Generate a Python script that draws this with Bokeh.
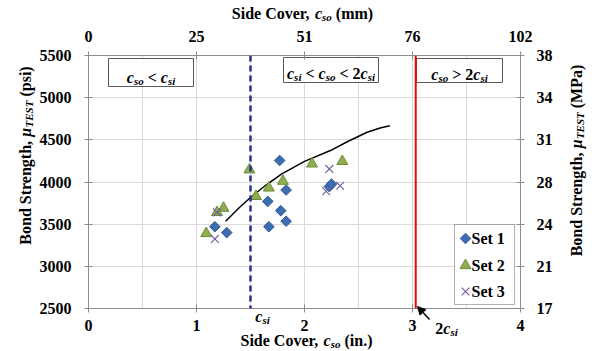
import math
from bokeh.plotting import figure
from bokeh.models import (Range1d, LinearAxis, FixedTicker, Span, Label, BoxAnnotation,
                          Arrow, NormalHead)
from bokeh.embed import file_html
from bokeh.resources import INLINE

# ---------------- data ----------------
set1_x = [1.17, 1.28, 1.77, 1.66, 1.83, 1.78, 1.67, 1.83, 2.23, 2.25]
set1_y = [3470, 3400, 4255, 3770, 3905, 3660, 3470, 3535, 3945, 3975]
set2_x = [1.09, 1.19, 1.25, 1.49, 1.55, 1.67, 1.80, 2.07, 2.35]
set2_y = [3390, 3640, 3690, 4145, 3830, 3930, 4010, 4215, 4245]
set3_x = [1.19, 1.17, 2.23, 2.20, 2.33]
set3_y = [3640, 3325, 4155, 3890, 3955]
trend_x = [1.27, 1.40, 1.51, 1.65, 1.79, 2.00, 2.24, 2.40, 2.58, 2.70, 2.79]
trend_y = [3535, 3700, 3828, 3970, 4097, 4245, 4373, 4480, 4590, 4640, 4666]
c_si = 1.5
two_c_si = 3.03
in_ticks = [0, 1, 2, 3, 4]
mm_labels = ["0", "25", "51", "76", "102"]
psi_ticks = [2500, 3000, 3500, 4000, 4500, 5000, 5500]
mpa_labels = ["17", "21", "24", "28", "31", "34", "38"]
series_names = ["Set 1", "Set 2", "Set 3"]

FONT = "Liberation Serif"
W, H = 600, 351
FL, FR, FT, FB = 88, 520, 55, 308   # frame edges in pixels
X0, X1, Y0, Y1 = 0, 4, 2500, 5500

p = figure(width=W, height=H, output_backend="svg", toolbar_location=None,
           x_range=Range1d(X0, X1), y_range=Range1d(Y0, Y1), title=None,
           min_border_left=FL, min_border_right=W - FR,
           min_border_top=FT, min_border_bottom=H - FB)
p.outline_line_color = None
p.background_fill_color = "white"
p.border_fill_color = "white"
p.styles = {"position": "absolute", "left": "0px", "top": "0px"}

AX_COL = "#8C8C8C"
def style_axis(ax, standoff):
    ax.axis_line_color = AX_COL
    ax.major_tick_line_color = AX_COL
    ax.major_tick_in = 4
    ax.major_tick_out = 4
    ax.minor_tick_line_color = None
    ax.major_label_text_font = FONT
    ax.major_label_text_font_style = "bold"
    ax.major_label_text_font_size = "16px"
    ax.major_label_text_color = "black"
    ax.major_label_standoff = standoff
    ax.axis_label = None

p.xaxis.ticker = FixedTicker(ticks=in_ticks)
p.yaxis.ticker = FixedTicker(ticks=psi_ticks)
style_axis(p.xaxis[0], 7)
style_axis(p.yaxis[0], 13)

top = LinearAxis(ticker=FixedTicker(ticks=in_ticks),
                 major_label_overrides={**{t: l for t, l in zip(in_ticks, mm_labels)},
                                        **{str(t): l for t, l in zip(in_ticks, mm_labels)}})
style_axis(top, 10)
p.add_layout(top, "above")
right = LinearAxis(ticker=FixedTicker(ticks=psi_ticks),
                   major_label_overrides={**{t: l for t, l in zip(psi_ticks, mpa_labels)},
                                          **{str(t): l for t, l in zip(psi_ticks, mpa_labels)}})
style_axis(right, 12)
p.add_layout(right, "right")

p.xgrid.ticker = FixedTicker(ticks=[0.5, 1, 1.5, 2, 2.5, 3, 3.5])
p.ygrid.ticker = FixedTicker(ticks=[3000, 3500, 4000, 4500, 5000])
p.xgrid.grid_line_color = "#D9D9D9"
p.ygrid.grid_line_color = "#D9D9D9"

def px2x(px):
    return X0 + (px - FL) * (X1 - X0) / (FR - FL)
def py2y(py):
    return Y1 - (py - FT) * (Y1 - Y0) / (FB - FT)

# region boxes (under the glyphs, over the grid)
for l, r, t, b in [(108, 193, 58, 86), (283, 378, 57, 82), (416, 502, 58, 82)]:
    p.add_layout(BoxAnnotation(left=px2x(l), right=px2x(r), top=py2y(t), bottom=py2y(b),
                               fill_color="white", fill_alpha=1.0, level="underlay",
                               line_color="#595959", line_width=1, line_alpha=1.0))

p.add_layout(Span(location=c_si, dimension="height", line_color="#23308F",
                  line_dash="6 4", line_width=2.5))
p.add_layout(Span(location=two_c_si, dimension="height", line_color="#FF0000",
                  line_width=2))

STY = [dict(marker="square", angle=math.pi / 4, size=7.5, fill_color="#3D6CB0", line_color="#2F5A96"),
       dict(marker="triangle", size=11, fill_color="#8FAF4F", line_color="#6E8B3D"),
       dict(marker="x", size=11, line_color="#7A5EA0", line_width=1.2)]

p.line(trend_x, trend_y, line_color="black", line_width=1.5)
for xs, ys, st in zip([set1_x, set2_x, set3_x], [set1_y, set2_y, set3_y], STY):
    p.scatter(xs, ys, **st)

# legend box (drawn to match the reference's rotated-diamond key)
p.add_layout(BoxAnnotation(left=px2x(454), right=px2x(514), top=py2y(224), bottom=py2y(304),
                           fill_color="white", fill_alpha=1.0, level="underlay",
                           line_color="black", line_width=1))
leg_rows = [238, 265, 291]
for name, st, row in zip(series_names, STY, leg_rows):
    p.scatter([px2x(465)], [py2y(row)], **st)
    p.add_layout(Label(x=px2x(471), y=py2y(row), text=name, text_font=FONT,
                       text_font_size="16px", text_font_style="bold",
                       text_align="left", text_baseline="middle", text_color="black"))

# ---------- overlay figure in pixel units for text outside the frame ----------
ov = figure(width=W, height=H, output_backend="svg", toolbar_location=None, title=None,
            x_range=Range1d(0, W), y_range=Range1d(H, 0),
            x_axis_type=None, y_axis_type=None, min_border=0)
ov.outline_line_color = None
ov.background_fill_color = None
ov.border_fill_color = None
ov.styles = {"position": "absolute", "left": "0px", "top": "0px"}
OFF = 5  # measured vertical offset of the overlay page element
ox = lambda v: v
oy = lambda v: v - OFF

BOLD = {" ": 250, "(": 333, ")": 333, ",": 250, ".": 250, "<": 570, ">": 570,
        "B": 667, "C": 722, "M": 944, "P": 611, "S": 556, "T": 667, "E": 667,
        "a": 500, "c": 444, "d": 556, "e": 444, "g": 500, "h": 556, "i": 278,
        "m": 833, "n": 556, "o": 500, "p": 556, "r": 444, "s": 389, "t": 333, "v": 500}
BI = {"c": 444, "s": 389, "o": 500, "i": 278, "T": 611, "E": 667, "S": 556, "μ": 576}

def tw(s, it, sz):
    tab = BI if it else BOLD
    return sum(tab.get(ch, 500) for ch in s) * sz / 1000.0

def rich(fig, fx, fy, runs, center, base, vertical=False):
    total = sum(tw(t, it, sz) for t, it, sz, sh in runs)
    cur = center - total / 2 if not vertical else center + total / 2
    for t, it, sz, sh in runs:
        lead = len(t) - len(t.lstrip(" "))
        txt = t.strip(" ")
        off = tw(t[:lead], it, sz)
        style = "bold italic" if it else "bold"
        if not vertical:
            x, y, ang = fx(cur + off), fy(base + sh), 0
            cur += tw(t, it, sz)
        else:
            x, y, ang = fx(base + sh), fy(cur - off), math.pi / 2
            cur -= tw(t, it, sz)
        if txt:
            fig.add_layout(Label(x=x, y=y, text=txt, angle=ang, text_font=FONT,
                                 text_font_size=f"{sz}px", text_font_style=style,
                                 text_align="left", text_baseline="alphabetic",
                                 text_color="black"))

B, I = False, True
SUB = 3
# texts inside the frame (main figure)
rich(p, px2x, py2y, [("c", I, 16, 0), ("so", I, 11, SUB), (" < ", B, 16, 0), ("c", I, 16, 0),
                     ("si", I, 11, SUB)], 150.5, 77)
rich(p, px2x, py2y, [("c", I, 16, 0), ("si", I, 11, SUB), (" < ", B, 16, 0), ("c", I, 16, 0),
                     ("so", I, 11, SUB), (" < 2", B, 16, 0), ("c", I, 16, 0), ("si", I, 11, SUB)],
     330.5, 73)
rich(p, px2x, py2y, [("c", I, 16, 0), ("so", I, 11, SUB), (" > 2", B, 16, 0), ("c", I, 16, 0),
                     ("si", I, 11, SUB)], 459, 74)
# texts outside the frame (overlay)
rich(ov, ox, oy, [("Side Cover, ", B, 16, 0), ("c", I, 16, 0), ("so", I, 11, SUB),
                  (" (in.)", B, 16, 0)], 306, 345)
rich(ov, ox, oy, [("Side Cover, ", B, 16, 0), ("c", I, 16, 0), ("so", I, 11, SUB),
                  (" (mm)", B, 16, 0)], 302, 18)
rich(ov, ox, oy, [("Bond Strength, ", B, 16, 0), ("μ", I, 16, 0), ("TEST", I, 11, SUB),
                  (" (psi)", B, 16, 0)], 160, 25, vertical=True)
rich(ov, ox, oy, [("Bond Strength, ", B, 16, 0), ("μ", I, 16, 0), ("TEST", I, 11, SUB),
                  (" (MPa)", B, 16, 0)], 165, 576, vertical=True)
rich(ov, ox, oy, [("c", I, 16, 0), ("si", I, 11, SUB)], 262, 321)
rich(ov, ox, oy, [("2", B, 16, 0), ("c", I, 16, 0), ("si", I, 11, SUB)], 446, 333)

ov.add_layout(Arrow(end=NormalHead(size=8, fill_color="black", line_color="black"),
                    x_start=ox(429), y_start=oy(324), x_end=ox(417), y_end=oy(311),
                    line_color="black", line_width=1.5))

open("out.html", "w").write(file_html([p, ov], INLINE))
